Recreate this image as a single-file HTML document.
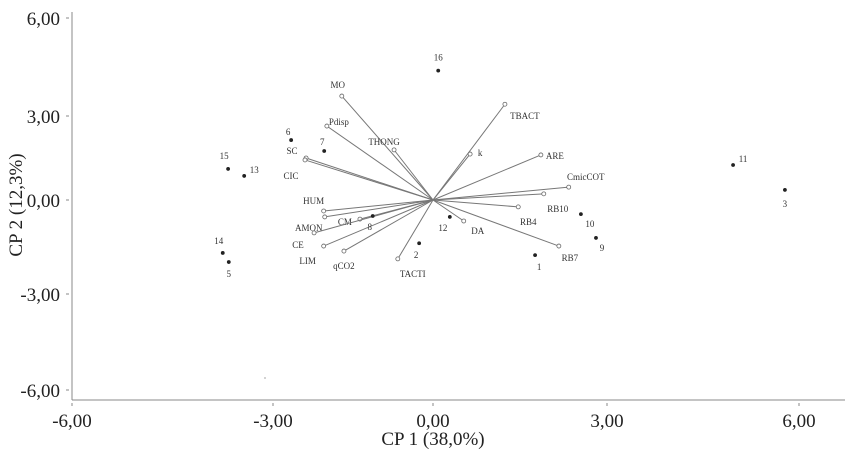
<!DOCTYPE html>
<html><head><meta charset="utf-8"><style>
body{margin:0;background:#fff;}
svg{display:block;font-family:"Liberation Serif",serif;}
</style></head><body>
<svg id="c" width="852" height="454">
<line x1="72" y1="12" x2="72" y2="400" stroke="#888" stroke-width="1"/>
<line x1="72" y1="400" x2="845" y2="400" stroke="#888" stroke-width="1"/>
<text x="433" y="445" font-size="19" text-anchor="middle" fill="#222">CP 1 (38,0%)</text>
<text transform="translate(22,205) rotate(-90)" font-size="19" text-anchor="middle" fill="#222">CP 2 (12,3%)</text>
<circle cx="265" cy="378" r="0.6" fill="#666"/>
</svg>
<script>
const xTicks=[-6,-3,0,3,6];
const xTickPx=[72,273,433,607,799];
const yTicks=[6,3,0,-3,-6];
const yTickPx=[18,116,200,294,390];
const tickLabels=["-6,00","-3,00","0,00","3,00","6,00"];
const yTickLabels=["6,00","3,00","0,00","-3,00","-6,00"];
const sampleNames=["16","15","13","6","7","14","5","8","2","12","1","10","9","11","3"];
const sampleX=[0.09,-3.67,-3.43,-2.66,-2.04,-3.75,-3.66,-1.13,-0.26,0.29,1.76,2.55,2.81,4.97,5.78];
const sampleY=[4.39,1.11,0.86,2.14,1.75,-1.69,-1.98,-0.51,-1.38,-0.54,-1.76,-0.45,-1.21,1.25,0.36];
const varNames=["MO","Pdisp","THONG","SC","CIC","HUM","AMON","CM","CE","LIM","qCO2","TACTI","TBACT","k","ARE","CmicCOT","RB10","RB4","DA","RB7"];
const varX=[-1.71,-1.99,-0.73,-2.38,-2.40,-2.05,-2.03,-1.37,-2.23,-2.05,-1.67,-0.66,1.24,0.64,1.86,2.34,1.91,1.47,0.53,2.17];
const varY=[3.61,2.64,1.79,1.50,1.43,-0.35,-0.54,-0.61,-1.05,-1.47,-1.63,-1.88,3.36,1.64,1.61,0.46,0.22,-0.22,-0.67,-1.47];
// label offsets (px), layout only
const sLab=[[0,-13],[-4,-13],[10,-6],[-3,-8],[-2,-9],[-4,-12],[0,12],[-3,11],[-3,12],[-7,11],[4,12],[9,10],[6,10],[10,-6],[0,14]];
const vLab=[[-4,-11],[12,-4],[-10,-8],[-14,-7],[-14,16],[-10,-10],[-16,11],[-15,3],[-16,12],[-16,15],[0,15],[15,15],[20,12],[10,-1],[14,1],[17,-10],[14,15],[10,15],[14,10],[11,12]];
function pw(v,ticks,px){
  for(let i=0;i<ticks.length-1;i++){const a=ticks[i],b=ticks[i+1];
    if((v-a)*(v-b)<=0||i===ticks.length-2&&true){if((v-a)*(v-b)<=0||i===ticks.length-2)return px[i]+(v-a)/(b-a)*(px[i+1]-px[i]);}}
  return px[0];
}
function sx(v){if(v<xTicks[0])return pw(v,xTicks.slice(0,2),xTickPx.slice(0,2));return pw(v,xTicks,xTickPx);}
function sy(v){if(v>yTicks[0])return pw(v,yTicks.slice(0,2),yTickPx.slice(0,2));return pw(v,yTicks,yTickPx);}
const svg=document.getElementById('c');const NS="http://www.w3.org/2000/svg";
function mk(t,a,txt){const e=document.createElementNS(NS,t);for(const k in a)e.setAttribute(k,a[k]);if(txt!=null)e.textContent=txt;svg.appendChild(e);return e;}
xTicks.forEach((t,i)=>{
  const l=mk('line',{x1:sx(t),x2:sx(t),y1:403,y2:406,stroke:'#888'});
  
  
  const tx=mk('text',{x:sx(t),y:427,'font-size':19,'text-anchor':'middle',fill:'#222'},tickLabels[i]);
  
  
});
yTicks.forEach((t,i)=>{
  const l=mk('line',{x1:66,x2:69,y1:sy(t),y2:sy(t),stroke:'#888'});
  
  
  const tx=mk('text',{x:60,y:sy(t)+7,'font-size':19,'text-anchor':'end',fill:'#222'},yTickLabels[i]);
  
  
});
const ox=sx(0),oy=sy(0);
varNames.forEach((n,i)=>{
  const x=sx(varX[i]),y=sy(varY[i]);
  const l=mk('line',{x1:ox,y1:oy,x2:x,y2:y,stroke:'#777','stroke-width':1});
  
  
  const c=mk('circle',{cx:x,cy:y,r:2,fill:'#fff',stroke:'#666','stroke-width':0.8});
  
  
  const t=mk('text',{x:x+vLab[i][0],y:y+vLab[i][1]+3,'font-size':9,'text-anchor':'middle',fill:'#333'},n);
  
  
});
sampleNames.forEach((n,i)=>{
  const x=sx(sampleX[i]),y=sy(sampleY[i]);
  const c=mk('circle',{cx:x,cy:y,r:1.9,fill:'#222'});
  
  
  const t=mk('text',{x:x+sLab[i][0],y:y+sLab[i][1]+3,'font-size':9,'text-anchor':'middle',fill:'#333'},n);
  
  
});
</script>
</body></html>
